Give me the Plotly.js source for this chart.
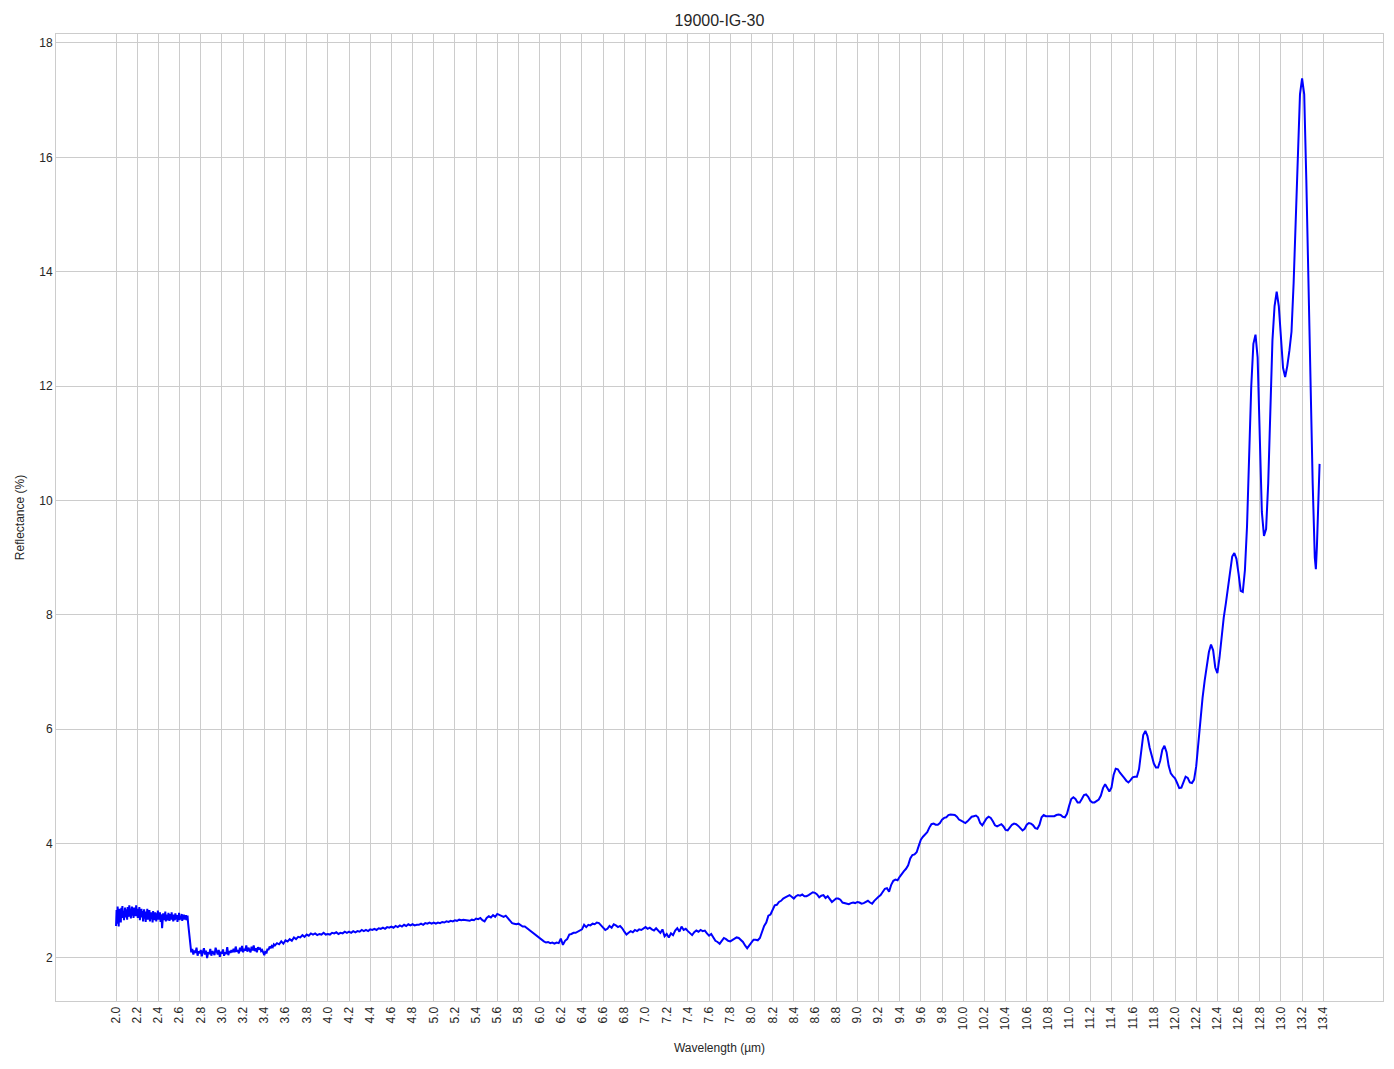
<!DOCTYPE html>
<html>
<head>
<meta charset="utf-8">
<script src="https://cdn.plot.ly/plotly-3.0.1.min.js"></script>
<style>html,body{margin:0;padding:0;background:#fff;}#chart{width:1394px;height:1069px;}</style>
</head>
<body>
<div id="chart"></div>
<script>
// Wavelength (µm) and reflectance (%)
const wavelengthA = [2.00,2.005,2.01,2.015,2.02,2.025,2.03,2.035,2.04,2.045,2.05,2.055,2.06,2.065,2.07,2.075,2.08,2.085,2.09,2.095,2.10,2.105,2.11,2.115,2.12,2.125,2.13,2.135,2.14,2.145,2.15,2.155,2.16,2.165,2.17,2.175,2.18,2.185,2.19,2.195,2.20,2.205,2.21,2.215,2.22,2.225,2.23,2.235,2.24,2.245,2.25,2.255,2.26,2.265,2.27,2.275,2.28,2.285,2.29,2.295,2.30,2.305,2.31,2.315,2.32,2.325,2.33,2.335,2.34,2.345,2.35,2.355,2.36,2.365,2.37,2.375,2.38,2.385,2.39,2.395,2.40,2.405,2.41,2.415,2.42,2.425,2.43,2.435,2.44,2.445,2.45,2.455,2.46,2.465,2.47,2.475,2.48,2.485,2.49,2.495,2.50,2.505,2.51,2.515,2.52,2.525,2.53,2.535,2.54,2.545,2.55,2.555,2.56,2.565,2.57,2.575,2.58,2.585,2.59,2.595,2.60,2.605,2.61,2.615,2.62,2.625,2.63,2.635,2.64,2.645,2.65,2.655,2.66,2.665,2.67,2.675,2.68,2.69,2.70];
const reflectanceA = [2.56,2.84,2.60,2.90,2.72,2.55,2.86,2.68,2.80,2.62,2.88,2.74,2.91,2.70,2.82,2.66,2.79,2.88,2.71,2.85,2.76,2.67,2.89,2.80,2.72,2.92,2.78,2.86,2.69,2.83,2.90,2.74,2.81,2.70,2.88,2.77,2.84,2.73,2.92,2.79,2.86,2.70,2.83,2.76,2.89,2.66,2.80,2.74,2.86,2.71,2.82,2.64,2.78,2.85,2.69,2.76,2.63,2.81,2.72,2.86,2.67,2.78,2.73,2.84,2.64,2.74,2.80,2.68,2.77,2.62,2.82,2.70,2.76,2.66,2.80,2.72,2.64,2.78,2.70,2.83,2.67,2.75,2.69,2.80,2.63,2.76,2.71,2.52,2.68,2.78,2.66,2.74,2.70,2.81,2.64,2.76,2.68,2.73,2.66,2.79,2.70,2.65,2.77,2.71,2.67,2.80,2.68,2.74,2.64,2.76,2.70,2.66,2.78,2.72,2.68,2.75,2.63,2.73,2.70,2.79,2.66,2.74,2.71,2.68,2.77,2.65,2.73,2.70,2.76,2.67,2.72,2.69,2.75,2.66,2.71,2.74,2.62,2.45,2.24];

const wavelengthA2 = [2.71,2.72,2.73,2.74,2.75,2.76,2.77,2.78,2.79,2.80,2.81,2.82,2.83,2.84,2.85,2.86,2.87,2.88,2.89,2.90,2.91,2.92,2.93,2.94,2.95,2.96,2.97,2.98,2.99,3.00,3.01,3.02,3.03,3.04,3.05,3.06,3.07,3.08,3.09,3.10,3.11,3.12,3.13,3.14,3.15,3.16,3.17,3.18,3.19,3.20,3.21,3.22,3.23,3.24,3.25,3.26,3.27,3.28,3.29,3.30,3.31,3.32,3.33,3.34,3.35,3.36,3.37,3.38,3.39,3.40,3.41,3.42,3.43,3.44,3.45,3.46,3.47,3.48,3.49,3.50];
const reflectanceA2 = [2.10,2.16,2.06,2.13,2.09,2.18,2.04,2.12,2.08,2.14,
                       2.03,2.11,2.17,2.06,2.13,2.00,2.10,2.07,2.16,2.04,
                       2.12,2.09,2.05,2.18,2.10,2.06,2.14,2.02,2.11,2.08,
                       2.15,2.04,2.10,2.07,2.19,2.05,2.12,2.09,2.14,2.10,
                       2.16,2.10,2.20,2.11,2.14,2.08,2.18,2.12,2.21,2.10,
                       2.16,2.13,2.22,2.11,2.18,2.14,2.10,2.20,2.13,2.22,
                       2.12,2.17,2.10,2.19,2.15,2.18,2.12,2.14,2.10,2.05,
                       2.12,2.08,2.16,2.14,2.20,2.17,2.21,2.19,2.24,2.22];

const wavelengthB = [3.52,3.54,3.56,3.58,3.60,3.62,3.64,3.66,3.68,3.70,3.72,3.74,3.76,3.78,3.80,3.82,3.84,3.86,3.88,3.90,3.92,3.94,3.96,3.98,4.00,4.02,4.04,4.06,4.08,4.10,4.12,4.14,4.16,4.18,4.20,4.22,4.24,4.26,4.28,4.30,4.32,4.34,4.36,4.38,4.40,4.42,4.44,4.46,4.48,4.50,4.52,4.54,4.56,4.58,4.60,4.62,4.64,4.66,4.68,4.70,4.72,4.74,4.76,4.78,4.80,4.82,4.84,4.86,4.88,4.90,4.92,4.94,4.96,4.98,5.00,5.02,5.04,5.06,5.08,5.10,5.12,5.14,5.16,5.18,5.20,5.22,5.24,5.26,5.28,5.30,5.32,5.34,5.36,5.38,5.40,5.42,5.44,5.46,5.48,5.50,5.52,5.54,5.56,5.58,5.60,5.62,5.64,5.66,5.68,5.70,5.72,5.74,5.76,5.78,5.80,5.82,5.84,5.86,5.88,5.90,5.92,5.94,5.96,5.98,6.00,6.02,6.04,6.06,6.08,6.10,6.12,6.14,6.16,6.18,6.20,6.22,6.24,6.26,6.28,6.30,6.32,6.34,6.36,6.38,6.40,6.42,6.44,6.46,6.48,6.50,6.52,6.54,6.56,6.58,6.60,6.62,6.64,6.66,6.68,6.70,6.72,6.74,6.76,6.78,6.80,6.82,6.84,6.86,6.88,6.90,6.92,6.94,6.96,6.98,7.00,7.02,7.04,7.06,7.08,7.10,7.12,7.14,7.16,7.18,7.20,7.22,7.24,7.26,7.28,7.30,7.32,7.34,7.36,7.38,7.40,7.42,7.44,7.46,7.48,7.50,7.52,7.54,7.56,7.58,7.60,7.62,7.64,7.66,7.68,7.70,7.72,7.74,7.76,7.78,7.80,7.82,7.84,7.86,7.88,7.90,7.92,7.94,7.96,7.98,8.00];
const reflectanceB = [2.26,2.24,2.29,2.25,2.31,2.29,2.33,2.30,2.36,2.33,2.37,2.36,2.40,2.37,2.41,2.39,2.43,2.41,2.43,2.40,2.42,2.41,2.44,2.41,2.42,2.41,2.44,2.43,2.45,2.42,2.44,2.43,2.46,2.44,2.46,2.44,2.47,2.45,2.47,2.46,2.49,2.47,2.49,2.47,2.50,2.49,2.51,2.49,2.52,2.51,2.53,2.51,2.54,2.53,2.55,2.53,2.56,2.54,2.57,2.55,2.58,2.56,2.59,2.57,2.59,2.57,2.58,2.58,2.60,2.58,2.61,2.60,2.62,2.60,2.62,2.60,2.62,2.61,2.63,2.62,2.64,2.63,2.65,2.64,2.66,2.65,2.67,2.66,2.67,2.66,2.66,2.65,2.67,2.66,2.69,2.68,2.70,2.66,2.64,2.70,2.73,2.71,2.75,2.72,2.77,2.75,2.74,2.72,2.74,2.69,2.66,2.61,2.60,2.59,2.60,2.58,2.55,2.55,2.52,2.50,2.46,2.44,2.41,2.38,2.35,2.31,2.29,2.27,2.28,2.26,2.27,2.25,2.27,2.26,2.34,2.23,2.30,2.33,2.41,2.42,2.44,2.44,2.46,2.47,2.50,2.58,2.54,2.58,2.57,2.60,2.59,2.62,2.61,2.57,2.52,2.49,2.51,2.56,2.53,2.59,2.57,2.54,2.56,2.52,2.46,2.41,2.44,2.47,2.45,2.49,2.47,2.50,2.49,2.52,2.54,2.51,2.53,2.50,2.48,2.52,2.48,2.44,2.50,2.38,2.42,2.36,2.43,2.40,2.48,2.52,2.46,2.55,2.49,2.51,2.47,2.44,2.40,2.45,2.48,2.46,2.49,2.47,2.48,2.43,2.39,2.42,2.36,2.30,2.28,2.25,2.30,2.35,2.33,2.30,2.29,2.31,2.34,2.36,2.35,2.32,2.28,2.22,2.17,2.22,2.28];

const wavelengthC = [8.02,8.04,8.06,8.08,8.10,8.12,8.14,8.16,8.18,8.20,8.22,8.24,8.26,8.28,8.30,8.32,8.34,8.36,8.38,8.40,8.42,8.44,8.46,8.48,8.50,8.52,8.54,8.56,8.58,8.60,8.62,8.64,8.66,8.68,8.70,8.72,8.74,8.76,8.78,8.80,8.82,8.84,8.86,8.88,8.90,8.92,8.94,8.96,8.98,9.00,9.02,9.04,9.06,9.08,9.10,9.12,9.14,9.16,9.18,9.20,9.22,9.24,9.26,9.28,9.30,9.32,9.34,9.36,9.38,9.40,9.42,9.44,9.46,9.48,9.50,9.52,9.54,9.56,9.58,9.60,9.62,9.64,9.66,9.68,9.70,9.72,9.74,9.76,9.78,9.80,9.82,9.84,9.86,9.88,9.90,9.92,9.94,9.96,9.98,10.00,10.02,10.04,10.06,10.08,10.10,10.12,10.14,10.16,10.18,10.20,10.22,10.24,10.26,10.28,10.30,10.32,10.34,10.36,10.38,10.40,10.42,10.44,10.46,10.48,10.50,10.52,10.54,10.56,10.58,10.60,10.62,10.64,10.66,10.68,10.70,10.72,10.74,10.76,10.78,10.80,10.82,10.84,10.86,10.88,10.90,10.92,10.94,10.96,10.98,11.00,11.02,11.04,11.06,11.08,11.10,11.12,11.14,11.16,11.18,11.20,11.22,11.24,11.26,11.28,11.30,11.32,11.34,11.36,11.38,11.40,11.42,11.44,11.46,11.48,11.50,11.52,11.54,11.56,11.58,11.60,11.62,11.64,11.66,11.68,11.70,11.72,11.74,11.76,11.78,11.80,11.82,11.84,11.86,11.88,11.90,11.92,11.94,11.96,11.98,12.00,12.02,12.04,12.06,12.08,12.10,12.12,12.14];
const reflectanceC = [2.32,2.32,2.31,2.35,2.46,2.56,2.62,2.74,2.76,2.84,2.92,2.93,2.98,3.00,3.04,3.06,3.08,3.10,3.07,3.04,3.08,3.10,3.09,3.11,3.08,3.08,3.10,3.13,3.15,3.14,3.11,3.06,3.09,3.10,3.05,3.08,3.03,2.98,3.01,3.04,3.04,3.02,2.97,2.96,2.95,2.94,2.96,2.97,2.96,2.98,2.97,2.95,2.96,2.98,3.00,2.97,2.95,3.00,3.04,3.07,3.10,3.16,3.21,3.22,3.16,3.28,3.35,3.37,3.36,3.42,3.48,3.52,3.56,3.62,3.74,3.80,3.81,3.85,3.96,4.07,4.12,4.16,4.20,4.28,4.34,4.35,4.33,4.33,4.36,4.42,4.45,4.46,4.50,4.51,4.51,4.50,4.47,4.42,4.40,4.38,4.36,4.39,4.44,4.47,4.48,4.49,4.46,4.36,4.32,4.38,4.44,4.47,4.45,4.39,4.32,4.30,4.32,4.34,4.30,4.24,4.23,4.28,4.33,4.35,4.34,4.31,4.26,4.23,4.26,4.33,4.36,4.35,4.32,4.27,4.26,4.33,4.46,4.50,4.48,4.48,4.49,4.49,4.48,4.50,4.51,4.50,4.47,4.46,4.52,4.66,4.78,4.81,4.78,4.72,4.72,4.78,4.85,4.86,4.82,4.75,4.72,4.72,4.74,4.77,4.84,4.97,5.04,4.98,4.91,4.98,5.20,5.31,5.30,5.24,5.20,5.15,5.10,5.07,5.11,5.16,5.17,5.17,5.30,5.65,5.90,5.97,5.88,5.68,5.52,5.40,5.33,5.33,5.45,5.64,5.71,5.60,5.36,5.23,5.18,5.14,5.06,4.97,4.98,5.08,5.17,5.15,5.07];

const wavelengthD = [12.16,12.18,12.20,12.22,12.24,12.26,12.28,12.30,12.32,12.34,12.36,12.38,12.40,12.42,12.44,12.46,12.48,12.50,12.52,12.54,12.56,12.58,12.60,12.62,12.64,12.66,12.68,12.70,12.72,12.74,12.76,12.78,12.80,12.82,12.84,12.86,12.88,12.90,12.92,12.94,12.96,12.98,13.00,13.02,13.04,13.06,13.08,13.10,13.12,13.14,13.16,13.18,13.20,13.22,13.24,13.26,13.28,13.30,13.32,13.33,13.34,13.35,13.365];
const reflectanceD = [5.06,5.12,5.35,5.75,6.20,6.55,6.85,7.10,7.35,7.48,7.38,7.08,6.98,7.25,7.65,7.95,8.20,8.45,8.78,9.02,9.08,8.98,8.72,8.42,8.40,8.78,9.55,10.80,12.00,12.74,12.90,12.50,11.00,9.80,9.38,9.50,10.30,11.70,12.80,13.40,13.65,13.40,12.85,12.32,12.16,12.35,12.62,12.95,13.80,15.00,16.30,17.10,17.38,17.10,15.60,13.80,11.90,10.30,9.00,8.80,9.20,9.90,10.64];

const xTickVals = [2.0,2.2,2.4,2.6,2.8,3.0,3.2,3.4,3.6,3.8,4.0,4.2,4.4,4.6,4.8,5.0,5.2,5.4,5.6,5.8,6.0,6.2,6.4,6.6,6.8,7.0,7.2,7.4,7.6,7.8,8.0,8.2,8.4,8.6,8.8,9.0,9.2,9.4,9.6,9.8,10.0,10.2,10.4,10.6,10.8,11.0,11.2,11.4,11.6,11.8,12.0,12.2,12.4,12.6,12.8,13.0,13.2,13.4];
const xTickText = ["2.0","2.2","2.4","2.6","2.8","3.0","3.2","3.4","3.6","3.8","4.0","4.2","4.4","4.6","4.8","5.0","5.2","5.4","5.6","5.8","6.0","6.2","6.4","6.6","6.8","7.0","7.2","7.4","7.6","7.8","8.0","8.2","8.4","8.6","8.8","9.0","9.2","9.4","9.6","9.8","10.0","10.2","10.4","10.6","10.8","11.0","11.2","11.4","11.6","11.8","12.0","12.2","12.4","12.6","12.8","13.0","13.2","13.4"];
const yTickVals = [2,4,6,8,10,12,14,16,18];

const segmentsX = [wavelengthA, wavelengthA2, wavelengthB, wavelengthC, wavelengthD];
const segmentsY = [reflectanceA, reflectanceA2, reflectanceB, reflectanceC, reflectanceD];
const wavelength = [], reflectance = [];
segmentsX.forEach((sx, k) => {
  const sy = segmentsY[k];
  const n = Math.min(sx.length, sy.length);
  for (let i = 0; i < n; i++) { wavelength.push(sx[i]); reflectance.push(sy[i]); }
});

const font = 'Liberation Sans, Arial, sans-serif';
const trace = {
  x: wavelength, y: reflectance, type: 'scatter', mode: 'lines',
  line: {color: '#0000ff', width: 2}, hoverinfo: 'x+y'
};
const layout = {
  width: 1394, height: 1069,
  margin: {l: 56, r: 11, t: 34, b: 68, pad: 0},
  paper_bgcolor: '#ffffff', plot_bgcolor: '#ffffff',
  font: {family: font, color: '#262626', size: 12},
  title: {text: '19000-IG-30', font: {family: font, size: 16, color: '#262626'}, xref: 'paper', x: 0.5, xanchor: 'center', yref: 'container', y: 0.981, yanchor: 'middle'},
  showlegend: false,
  xaxis: {
    range: [1.433, 13.964], tickmode: 'array', tickvals: xTickVals, ticktext: xTickText,
    tickangle: -90, ticks: '', showgrid: true, gridcolor: '#cccccc', gridwidth: 1,
    showline: true, linecolor: '#cccccc', linewidth: 1, mirror: true, zeroline: false,
    tickfont: {family: font, size: 12, color: '#262626'},
    title: {text: 'Wavelength (µm)', font: {family: font, size: 12, color: '#262626'}, standoff: 14}
  },
  yaxis: {
    range: [1.248, 18.157], tickmode: 'array', tickvals: yTickVals, ticks: '',
    showgrid: true, gridcolor: '#cccccc', gridwidth: 1,
    showline: true, linecolor: '#cccccc', linewidth: 1, mirror: true, zeroline: false,
    tickfont: {family: font, size: 12, color: '#262626'},
    title: {text: 'Reflectance (%)', font: {family: font, size: 12, color: '#262626'}, standoff: 12}
  }
};
Plotly.newPlot('chart', [trace], layout, {displayModeBar: false, staticPlot: true});
</script>
</body>
</html>
